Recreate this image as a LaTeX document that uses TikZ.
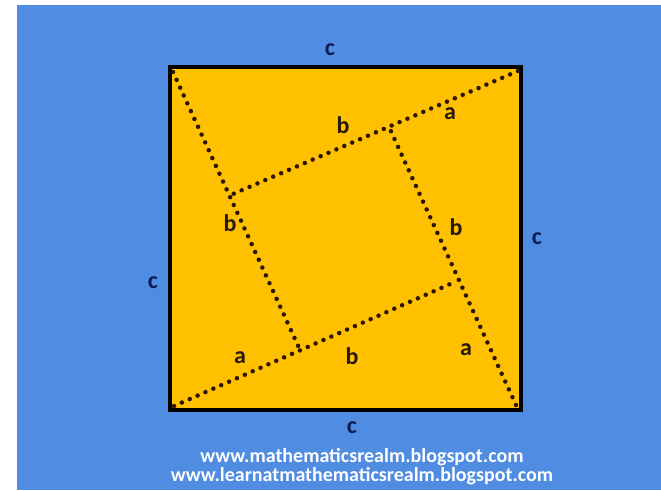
\documentclass[tikz,border=0pt]{standalone}
\usepackage{fontspec}
\setmainfont{Carlito}
\definecolor{bgblue}{RGB}{80,140,226}
\definecolor{sqyellow}{RGB}{255,192,0}
\definecolor{dotbrown}{RGB}{45,22,5}
\definecolor{navy}{RGB}{12,28,80}
\definecolor{lblbrown}{RGB}{40,25,10}
\begin{document}
\begin{tikzpicture}[x=1pt,y=-1pt,
  sidelbl/.style={font=\bfseries\fontsize{24}{24}\selectfont, text=navy, inner sep=0pt},
  leglbl/.style={font=\bfseries\fontsize{24}{24}\selectfont, text=lblbrown, inner sep=0pt},
  dotline/.style={draw=dotbrown, line width=4.5pt, line cap=round, dash pattern=on 0pt off 8.6pt},
  footer/.style={font=\bfseries\fontsize{20}{20}\selectfont, text=white, inner sep=0pt}]
\useasboundingbox (0,0) rectangle (661,490);
\fill[white] (0,0) rectangle (661,490);
\fill[bgblue] (17,5) rectangle (661,490);
% big square
\coordinate (TL) at (170,67);
\coordinate (TR) at (521,67);
\coordinate (BR) at (521,410);
\coordinate (BL) at (170,410);
\filldraw[fill=sqyellow, draw=black, line width=3.5pt] (TL) -- (TR) -- (BR) -- (BL) -- cycle;
% inner square vertices
\coordinate (A) at (233,194);
\coordinate (B) at (389,127);
\coordinate (C) at (457,281);
\coordinate (D) at (300,350);
\coordinate (tl) at (173,72);
\coordinate (tr) at (518,71);
\coordinate (br) at (516,405);
\coordinate (bl) at (174,406);
\draw[dotline] (tl) -- (D);
\draw[dotline] (tr) -- (A);
\draw[dotline] (br) -- (B);
\draw[dotline] (bl) -- (C);
% side labels
\node[sidelbl] (ctop) at (330,50) {c};
\node[sidelbl] (cleft) at (153,283) {c};
\node[sidelbl] (cright) at (537,239) {c};
\node[sidelbl] (cbot) at (352,428) {c};
% leg labels
\node[leglbl] (b1) at (343,125) {b};
\node[leglbl] (a1) at (450,114) {a};
\node[leglbl] (b2) at (230,223) {b};
\node[leglbl] (b3) at (456,227) {b};
\node[leglbl] (a2) at (240,358) {a};
\node[leglbl] (b4) at (352,356) {b};
\node[leglbl] (a3) at (466,350) {a};
% footer
\node[footer] (url1) at (362,457) {www.mathematicsrealm.blogspot.com};
\node[footer] (url2) at (362,476) {www.learnatmathematicsrealm.blogspot.com};
\end{tikzpicture}
\end{document}
